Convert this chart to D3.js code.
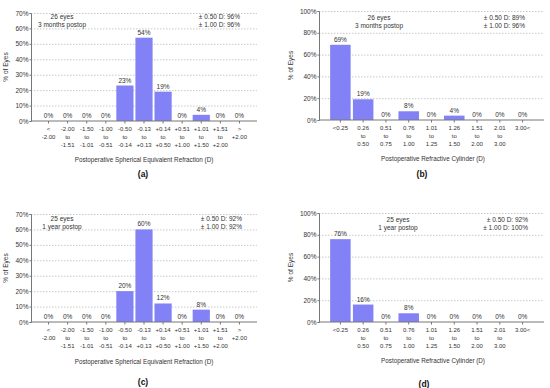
<!DOCTYPE html>
<html>
<head>
<meta charset="utf-8">
<script src="https://cdn.jsdelivr.net/npm/d3@7"></script>
<style>
  body { margin: 0; background: #fff; }
  svg { font-family: "Liberation Sans", Arial, sans-serif; }
</style>
</head>
<body>
<div id="chart"></div>
<script>
// spherical equivalent categories (one entry per tick, one string per line)
var seLabels = [["<", "-2.00"], ["-2.00", "to", "-1.51"], ["-1.50", "to", "-1.01"], ["-1.00", "to", "-0.51"],
	["-0.50", "to", "-0.14"], ["-0.13", "to", "+0.13"], ["+0.14", "to", "+0.50"], ["+0.51", "to", "+1.00"],
	["+1.01", "to", "+1.50"], ["+1.51", "to", "+2.00"], [">", "+2.00"]];
var se3Months = [0, 0, 0, 0, 23, 54, 19, 0, 4, 0, 0];
var se1Year = [0, 0, 0, 0, 20, 60, 12, 0, 8, 0, 0];
var seTicks = [0, 10, 20, 30, 40, 50, 60, 70];

// refractive cylinder categories
var cylLabels = [["<0.25"], ["0.26", "to", "0.50"], ["0.51", "to", "0.75"], ["0.76", "to", "1.00"],
	["1.01", "to", "1.25"], ["1.26", "to", "1.50"], ["1.51", "to", "2.00"], ["2.01", "to", "3.00"], ["3.00<"]];
var cyl3Months = [69, 19, 0, 8, 0, 4, 0, 0, 0];
var cyl1Year = [76, 16, 0, 8, 0, 0, 0, 0, 0];
var cylTicks = [0, 20, 40, 60, 80, 100];

var seTitle = "Postoperative Spherical Equivalent Refraction (D)";
var cylTitle = "Postoperative Refractive Cylinder (D)";

var svg = d3.select("#chart").append("svg")
	.attr("width", 550)
	.attr("height", 388);

var barColor = "#8282f6";
var textColor = "#333";

function drawPanel(p) {
	var g = svg.append("g");
	var n = p.labels.length;
	var step = (p.right - p.left - 2 * p.pad) / n;

	var x = d3.scaleBand()
		.domain(d3.range(n))
		.range([p.left + p.pad, p.right - p.pad])
		.paddingInner(0.1)
		.paddingOuter(0.05);
	var y = d3.scaleLinear()
		.domain([0, p.ticks[p.ticks.length - 1]])
		.range([p.bottom, p.top]);

	// dotted gridlines
	g.selectAll(".grid")
		.data(p.ticks.filter(function(t) { return t > 0; }))
		.enter().append("line")
		.attr("x1", p.left).attr("x2", p.right)
		.attr("y1", function(d) { return y(d) + 0.5; })
		.attr("y2", function(d) { return y(d) + 0.5; })
		.attr("stroke", "#bbb")
		.attr("stroke-width", 0.8)
		.attr("stroke-dasharray", "1.5,1.5");

	// bars
	g.selectAll(".bar")
		.data(p.values)
		.enter().append("rect")
		.attr("x", function(d, i) { return x(i); })
		.attr("width", x.bandwidth())
		.attr("y", function(d) { return y(d); })
		.attr("height", function(d) { return p.bottom - y(d); })
		.attr("fill", barColor);

	// value labels
	g.selectAll(".val")
		.data(p.values)
		.enter().append("text")
		.attr("x", function(d, i) { return x(i) + x.bandwidth() / 2; })
		.attr("y", function(d) { return y(d) - 3; })
		.attr("text-anchor", "middle")
		.attr("font-size", "6.5px")
		.attr("fill", textColor)
		.text(function(d) { return d + "%"; });

	// y axis
	var yAxis = d3.axisLeft(y)
		.tickValues(p.ticks)
		.tickSize(1.5)
		.tickPadding(1)
		.tickFormat(function(d) { return d + "%"; });
	var ya = g.append("g")
		.attr("transform", "translate(" + p.left + ",0)")
		.call(yAxis);
	ya.select(".domain").attr("stroke", "#777");
	ya.selectAll(".tick line").attr("stroke", "#777");
	ya.selectAll(".tick text")
		.attr("font-size", "6.5px")
		.attr("font-family", "Liberation Sans, Arial, sans-serif")
		.attr("fill", textColor);

	// x axis line and ticks
	var xa = g.append("g")
		.attr("transform", "translate(0," + p.bottom + ")")
		.call(d3.axisBottom(x).tickSize(2.5).tickFormat(""));
	xa.select(".domain").attr("d", "M" + p.left + ",0H" + p.right).attr("stroke", "#777");
	xa.selectAll(".tick line").attr("stroke", "#777");

	// multi-line category labels
	var lab = g.selectAll(".cat")
		.data(p.labels)
		.enter().append("text")
		.attr("text-anchor", "middle")
		.attr("font-size", "6px")
		.attr("fill", textColor)
		.attr("transform", function(d, i) {
			return "translate(" + (x(i) + x.bandwidth() / 2) + "," + (p.bottom + 9.5) + ")";
		});
	lab.selectAll("tspan")
		.data(function(d) { return d; })
		.enter().append("tspan")
		.attr("x", 0)
		.attr("y", function(d, i) { return i * 8.3; })
		.text(function(d) { return d; });

	// y axis title
	g.append("text")
		.attr("transform", "translate(" + p.yLabelX + "," + ((p.top + p.bottom) / 2) + ") rotate(-90)")
		.attr("text-anchor", "middle")
		.attr("font-size", "6.5px")
		.attr("fill", textColor)
		.text("% of Eyes");

	// x axis title
	g.append("text")
		.attr("x", p.titleX)
		.attr("y", p.titleY)
		.attr("text-anchor", "middle")
		.attr("font-size", "6.3px")
		.attr("fill", textColor)
		.text(p.title);

	// notes
	g.selectAll(".noteL")
		.data(p.noteLeft)
		.enter().append("text")
		.attr("x", p.noteLX)
		.attr("y", function(d, i) { return p.noteY + i * 8; })
		.attr("text-anchor", "middle")
		.attr("font-size", "6.5px")
		.attr("fill", textColor)
		.text(function(d) { return d; });
	g.selectAll(".noteR")
		.data(p.noteRight)
		.enter().append("text")
		.attr("x", p.noteRX)
		.attr("y", function(d, i) { return p.noteY + i * 8; })
		.attr("text-anchor", "end")
		.attr("font-size", "6.5px")
		.attr("fill", textColor)
		.text(function(d) { return d; });

	// panel letter
	g.append("text")
		.attr("x", p.letterX)
		.attr("y", p.letterY)
		.attr("text-anchor", "middle")
		.attr("font-size", "8.5px")
		.attr("font-weight", "bold")
		.attr("fill", "#111")
		.text(p.letter);
}

drawPanel({
	labels: seLabels, values: se3Months, ticks: seTicks, title: seTitle,
	left: 31, right: 257, pad: 8, top: 13, bottom: 121, yLabelX: 8,
	titleX: 144, titleY: 162, letter: "(a)", letterX: 143, letterY: 177,
	noteLeft: ["26 eyes", "3 months postop"], noteRight: ["± 0.50 D: 96%", "± 1.00 D: 96%"],
	noteLX: 62, noteRX: 240, noteY: 19
});
drawPanel({
	labels: cylLabels, values: cyl3Months, ticks: cylTicks, title: cylTitle,
	left: 319, right: 544, pad: 10, top: 11, bottom: 120, yLabelX: 293,
	titleX: 433, titleY: 161, letter: "(b)", letterX: 422, letterY: 177,
	noteLeft: ["26 eyes", "3 months postop"], noteRight: ["± 0.50 D: 89%", "± 1.00 D: 96%"],
	noteLX: 379, noteRX: 525, noteY: 20
});
drawPanel({
	labels: seLabels, values: se1Year, ticks: seTicks, title: seTitle,
	left: 31, right: 257, pad: 8, top: 214, bottom: 322, yLabelX: 8,
	titleX: 144, titleY: 364, letter: "(c)", letterX: 143, letterY: 385,
	noteLeft: ["25 eyes", "1 year postop"], noteRight: ["± 0.50 D: 92%", "± 1.00 D: 92%"],
	noteLX: 62, noteRX: 242, noteY: 221
});
drawPanel({
	labels: cylLabels, values: cyl1Year, ticks: cylTicks, title: cylTitle,
	left: 319, right: 544, pad: 10, top: 213, bottom: 322, yLabelX: 293,
	titleX: 433, titleY: 363, letter: "(d)", letterX: 424, letterY: 387,
	noteLeft: ["25 eyes", "1 year postop"], noteRight: ["± 0.50 D: 92%", "± 1.00 D: 100%"],
	noteLX: 398, noteRX: 528, noteY: 222
});
</script>
</body>
</html>
